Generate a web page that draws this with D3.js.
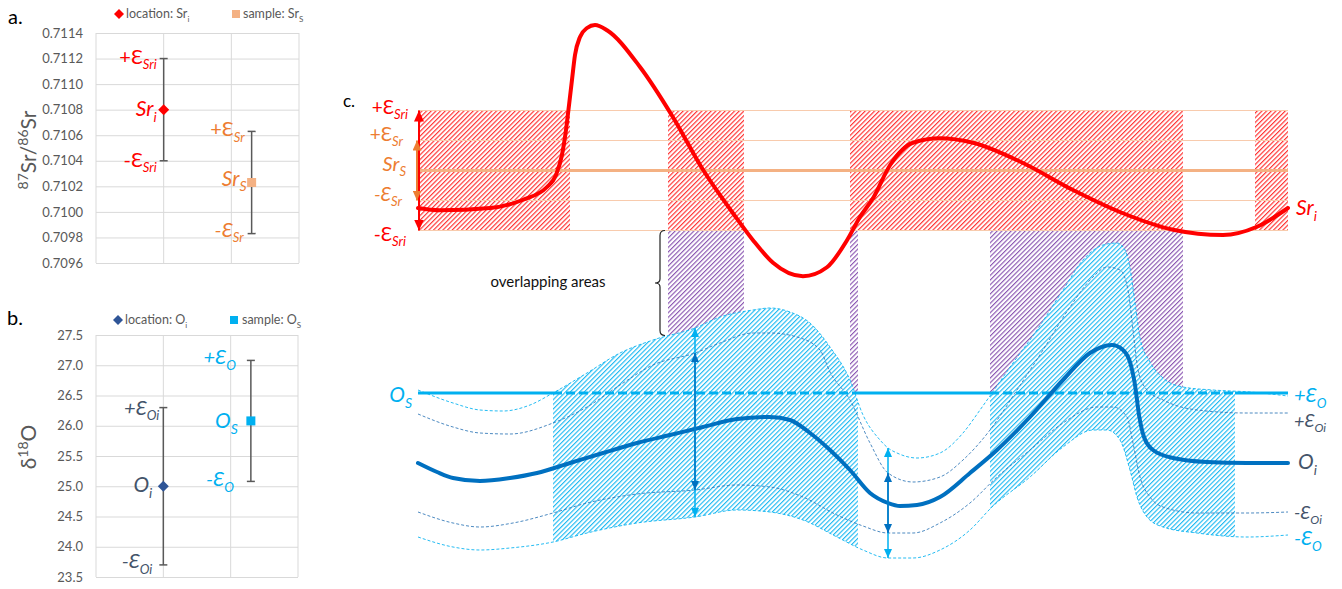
<!DOCTYPE html>
<html><head><meta charset="utf-8">
<script src="https://cdn.jsdelivr.net/npm/d3@7"></script>
<style>body{margin:0;background:#fff}svg{display:block}</style>
</head><body><svg id="chart" width="1342" height="589"></svg>
<script>
// ---------------- DATA ----------------
// panel a
const aYTicks = [0.7096,0.7098,0.7100,0.7102,0.7104,0.7106,0.7108,0.7110,0.7112,0.7114];
const gridX = [0,1,2,3];
const srCategories = ["location", "sample"];
const srPos = [1, 2.3];
const srValues = [0.7108, 0.71023];
const srErrors = [0.0004, 0.0004];
// panel b
const bYTicks = [23.5,24.0,24.5,25.0,25.5,26.0,26.5,27.0,27.5];
const oPos = [1, 2.3];
const oValues = [25.0, 26.08];
const oErrors = [1.3, 1.0];
// panel c  (x = distance units 0..87)
const cSrS = 0.71023, cEpsSr = 0.0004, cEpsSri = 0.0004;
const cOS = 26.1;
const srCurve = [[0,0.70973],[2.2,0.70970],[7.2,0.70973],[10.5,0.70984],[12.9,0.71001],[13.8,0.71017],[14.4,0.71044],[14.8,0.71077],[15.1,0.71110],[15.4,0.71144],[15.7,0.71177],[16.2,0.71201],[16.9,0.71213],[17.7,0.71217],[18.9,0.71210],[22.2,0.71161],[25.5,0.71094],[28.5,0.71024],[31.5,0.70966],[33.5,0.70930],[35.5,0.70900],[38.5,0.70882],[40.9,0.70894],[42.9,0.70930],[44.2,0.70961],[45.5,0.70986],[47.2,0.71030],[49.5,0.71060],[52.2,0.71066],[55.5,0.71060],[60.5,0.71033],[65.5,0.70997],[70.5,0.70966],[75.5,0.70944],[80.5,0.70937],[83.9,0.70948],[87,0.70973]];
const oiCurve = [[0,24.70],[1.9,24.52],[3.5,24.40],[6.2,24.34],[9.2,24.40],[11.9,24.50],[15.2,24.70],[18.5,24.90],[21.9,25.10],[25.2,25.26],[28.5,25.42],[31.9,25.58],[35.2,25.62],[37.2,25.56],[39.2,25.30],[41.2,24.96],[43.2,24.56],[45.2,24.10],[47.0,23.90],[48.2,23.84],[49.9,23.86],[52.2,24.02],[55.2,24.50],[57.9,24.96],[61.2,25.62],[64.5,26.36],[67.2,26.90],[69.4,27.06],[70.5,26.96],[71.2,26.72],[71.7,26.26],[72.1,25.66],[72.6,25.22],[73.5,24.96],[75.5,24.80],[78.9,24.72],[82.9,24.70],[87,24.70]];
const oiUpper = [[0,25.68],[3.5,25.42],[6.2,25.30],[9.2,25.28],[13.5,25.50],[16.9,25.82],[20.2,26.26],[23.5,26.66],[27.7,26.90],[30.2,27.10],[33.5,27.30],[35.2,27.30],[37.9,27.22],[40.2,26.96],[41.2,26.52],[43.2,25.96],[45.2,25.10],[47.0,24.50],[49.5,24.32],[52.2,24.42],[54.5,24.76],[57.2,25.36],[59.9,26.16],[62.5,26.96],[65.2,27.82],[67.5,28.42],[68.9,28.62],[70.2,28.56],[71.0,28.16],[71.5,27.36],[72.0,26.56],[72.9,26.16],[74.5,25.96],[77.9,25.76],[82.9,25.70],[87,25.70]];
const oiLower = [[0,23.72],[3.5,23.50],[6.2,23.42],[9.5,23.50],[13.5,23.70],[16.9,23.90],[21.9,24.08],[27.7,24.16],[31.9,24.26],[35.2,24.22],[38.5,24.02],[41.9,23.66],[44.5,23.44],[47.0,23.30],[49.5,23.30],[52.2,23.50],[55.2,23.90],[57.9,24.42],[61.2,24.96],[64.5,25.50],[67.9,25.82],[69.5,25.82],[70.9,25.62],[71.5,25.10],[72.2,24.42],[73.2,24.02],[74.5,23.82],[77.9,23.70],[82.9,23.70],[87,23.72]];
const oTotUpper = [[0,26.16],[3.5,25.90],[6.2,25.76],[8.5,25.74],[11.2,25.86],[13.5,26.10],[16.9,26.50],[20.2,26.90],[23.5,27.16],[27.7,27.40],[30.2,27.62],[33.5,27.76],[35.2,27.80],[37.2,27.72],[39.2,27.50],[41.2,27.02],[43.2,26.36],[44.5,25.66],[46.2,25.16],[47.0,25.00],[47.9,24.90],[49.9,24.80],[52.2,24.90],[54.5,25.30],[56.2,25.76],[57.4,26.10],[59.5,26.70],[61.9,27.36],[64.5,28.16],[66.5,28.76],[68.5,29.06],[69.9,29.10],[70.7,28.96],[71.2,28.60],[71.7,27.90],[72.2,27.20],[73.2,26.72],[74.5,26.40],[76.5,26.22],[79.5,26.16],[83.2,26.12],[87,26.04]];
const oTotLower = [[0,23.22],[3.5,23.02],[6.2,22.96],[9.2,23.00],[13.5,23.12],[16.9,23.30],[21.9,23.50],[27.7,23.62],[31.9,23.76],[35.2,23.72],[38.5,23.56],[41.9,23.22],[44.5,22.96],[47.0,22.80],[49.5,22.80],[52.2,22.96],[55.2,23.36],[57.4,23.82],[61.2,24.42],[64.5,25.02],[67.5,25.36],[68.9,25.36],[70.2,25.16],[71.2,24.56],[71.9,24.02],[72.9,23.62],[74.5,23.42],[77.9,23.30],[82.9,23.22],[87,23.26]];
const srOverlap = [[0,15.2],[25.0,32.6],[43.2,76.5],[83.7,87]];
const bothOverlap = [[25.0,32.6],[43.2,44.0],[57.2,76.5]];
const oOverlap = [[13.5,44.0],[57.2,81.7]];
const arrowPos = [27.7, 47.0];
const braceO = 27.25;

// ---------------- HELPERS ----------------
const FONT = "Lato, 'Noto Sans', 'DejaVu Sans', sans-serif";
const svg = d3.select("#chart");
const defs = svg.append("defs");
function hatch(id, color, w, op, sp) {
  const p = defs.append("pattern").attr("id", id).attr("patternUnits", "userSpaceOnUse")
    .attr("width", sp).attr("height", 10).attr("patternTransform", "rotate(45)");
  p.append("line").attr("x1", 0.6).attr("y1", 0).attr("x2", 0.6).attr("y2", 10)
    .attr("stroke", color).attr("stroke-width", w).attr("stroke-opacity", op);
}
hatch("hRed", "#ff1a1a", 1.15, 0.9, 3.3);
hatch("hPurple", "#7030a0", 1.1, 0.85, 3.3);
hatch("hBlue", "#00b0f0", 1.05, 0.95, 3.3);
function marker(id, color, w, l) {
  defs.append("marker").attr("id", id).attr("viewBox", "0 0 10 10").attr("refX", 10).attr("refY", 5)
    .attr("markerUnits", "userSpaceOnUse").attr("markerWidth", l).attr("markerHeight", w)
    .attr("preserveAspectRatio", "none").attr("orient", "auto-start-reverse")
    .append("path").attr("d", "M0,0L10,5L0,10Z").attr("fill", color);
}
marker("mRed", "#ff0000", 10, 11);
marker("mOrange", "#ed7d31", 9, 10);
marker("mLight", "#00b0f0", 8, 9);
marker("mDark", "#0070c0", 8, 9);

function rich(g, x, y, parts, o) {
  const size = o.size || 18;
  const t = g.append("text").attr("x", x).attr("y", y)
    .attr("text-anchor", o.anchor || "start").attr("fill", o.color)
    .attr("font-size", size).attr("font-family", FONT);
  if (o.transform) t.attr("transform", o.transform);
  let cur = 0;
  parts.forEach(p => {
    const small = p.sub || p.sup;
    const fs = small ? Math.round(size * (o.subScale || 0.66)) : size;
    const target = p.sub ? size * 0.28 : p.sup ? -size * 0.38 : 0;
    const ts = t.append("tspan").text(p.t).attr("font-size", fs).attr("dy", target - cur);
    if (p.i) ts.attr("font-style", "italic");
    cur = target;
  });
  return t;
}
const diamond = (x, y, r) => `M${x},${y - r}L${x + r},${y}L${x},${y + r}L${x - r},${y}Z`;
function interp(curve, u) {
  for (let k = 0; k < curve.length - 1; k++) {
    const a = curve[k], b = curve[k + 1];
    if (u >= a[0] && u <= b[0]) return a[1] + (b[1] - a[1]) * (u - a[0]) / (b[0] - a[0]);
  }
  return curve[curve.length - 1][1];
}

// ---------------- PANEL A / B frame ----------------
function framePanel(xS, yS, ticks, fmt) {
  const g = svg.append("g");
  const [x0, x1] = xS.range();
  const [y0, y1] = yS.range();
  g.append("g").attr("transform", `translate(${x0},0)`)
    .call(d3.axisLeft(yS).tickValues(ticks).tickFormat(fmt).tickSize(-(x1 - x0)).tickPadding(13))
    .call(a => {
      a.select(".domain").remove();
      a.selectAll("line").attr("stroke", "#d9d9d9").attr("stroke-width", 1);
      a.selectAll("text").attr("fill", "#595959").attr("font-size", 13).attr("font-family", FONT);
    });
  g.selectAll(".vg").data(gridX).join("line")
    .attr("x1", d => xS(d)).attr("x2", d => xS(d)).attr("y1", y0).attr("y2", y1)
    .attr("stroke", "#d9d9d9").attr("stroke-width", 1);
  return g;
}
function errBar(g, x, yTop, yBot) {
  g.append("line").attr("x1", x).attr("x2", x).attr("y1", yTop).attr("y2", yBot).attr("stroke", "#595959").attr("stroke-width", 1.5);
  [yTop, yBot].forEach(y => g.append("line").attr("x1", x - 4).attr("x2", x + 4).attr("y1", y).attr("y2", y).attr("stroke", "#595959").attr("stroke-width", 1.5));
}

const RED = "#ff0000", ORANGE = "#ed7d31", LBLUE = "#00b0f0", DBLUE = "#0070c0", SLATE = "#44546a";

// ---------------- PANEL A ----------------
const xA = d3.scaleLinear().domain([0, 3]).range([96, 299]);
const yA = d3.scaleLinear().domain([0.7096, 0.7114]).range([263, 33]);
const gA = framePanel(xA, yA, aYTicks, d3.format(".4f"));
svg.append("text").attr("x", 8).attr("y", 24).attr("font-size", 20).attr("font-family", FONT).attr("fill", "#000").text("a.");
svg.append("path").attr("d", diamond(119, 14, 5)).attr("fill", RED);
rich(svg, 126, 18, [{t: "location: Sr"}, {t: "i", sub: 1}], {size: 12.5, color: "#595959"});
svg.append("rect").attr("x", 232).attr("y", 10).attr("width", 8).attr("height", 8).attr("fill", "#f4b183");
rich(svg, 243, 18, [{t: "sample: Sr"}, {t: "S", sub: 1}], {size: 12.5, color: "#595959"});
rich(svg, 0, 0, [{t: "87", sup: 1}, {t: "Sr/"}, {t: "86", sup: 1}, {t: "Sr"}], {size: 21, color: "#595959", anchor: "middle", transform: "translate(36,150) rotate(-90)"});
srCategories.forEach((c, i) => errBar(gA, xA(srPos[i]), yA(srValues[i] + srErrors[i]), yA(srValues[i] - srErrors[i])));
gA.append("path").attr("d", diamond(xA(srPos[0]), yA(srValues[0]), 5.5)).attr("fill", RED);
gA.append("rect").attr("x", xA(srPos[1]) - 4.5).attr("y", yA(srValues[1]) - 4.5).attr("width", 9).attr("height", 9).attr("fill", "#f4b183");
let lx = xA(srPos[0]);
rich(gA, lx - 7, yA(srValues[0] + srErrors[0]) + 5, [{t: "+Ɛ"}, {t: "Sri", sub: 1, i: 1}], {size: 20, color: RED, anchor: "end"});
rich(gA, lx - 7, yA(srValues[0]) + 6, [{t: "Sr", i: 1}, {t: "i", sub: 1, i: 1}], {size: 21, color: RED, anchor: "end"});
rich(gA, lx - 7, yA(srValues[0] - srErrors[0]) + 6, [{t: "-Ɛ"}, {t: "Sri", sub: 1, i: 1}], {size: 20, color: RED, anchor: "end"});
lx = xA(srPos[1]);
rich(gA, lx - 7, yA(srValues[1] + srErrors[1]) + 5, [{t: "+Ɛ"}, {t: "Sr", sub: 1, i: 1}], {size: 20, color: ORANGE, anchor: "end"});
rich(gA, lx - 5, yA(srValues[1]) + 3, [{t: "Sr", i: 1}, {t: "S", sub: 1, i: 1}], {size: 21, color: ORANGE, anchor: "end"});
rich(gA, lx - 8, yA(srValues[1] - srErrors[1]) + 3, [{t: "-Ɛ", i: 1}, {t: "Sr", sub: 1, i: 1}], {size: 20, color: ORANGE, anchor: "end"});

// ---------------- PANEL B ----------------
const xB = d3.scaleLinear().domain([0, 3]).range([96, 298]);
const yB = d3.scaleLinear().domain([23.5, 27.5]).range([577, 335]);
const gB = framePanel(xB, yB, bYTicks, d3.format(".1f"));
svg.append("text").attr("x", 7).attr("y", 325).attr("font-size", 20).attr("font-family", FONT).attr("fill", "#000").text("b.");
svg.append("path").attr("d", diamond(118, 320, 5)).attr("fill", "#2f5597");
rich(svg, 125, 324, [{t: "location: O"}, {t: "i", sub: 1}], {size: 12.5, color: "#595959"});
svg.append("rect").attr("x", 230).attr("y", 316).attr("width", 8).attr("height", 8).attr("fill", LBLUE);
rich(svg, 242, 324, [{t: "sample: O"}, {t: "S", sub: 1}], {size: 12.5, color: "#595959"});
rich(svg, 0, 0, [{t: "δ"}, {t: "18", sup: 1}, {t: "O"}], {size: 21, color: "#595959", anchor: "middle", transform: "translate(36,447) rotate(-90)"});
oValues.forEach((v, i) => errBar(gB, xB(oPos[i]), yB(v + oErrors[i]), yB(v - oErrors[i])));
gB.append("path").attr("d", diamond(xB(oPos[0]), yB(oValues[0]), 5.5)).attr("fill", "#2f5597");
gB.append("rect").attr("x", xB(oPos[1]) - 4.5).attr("y", yB(oValues[1]) - 4.5).attr("width", 9).attr("height", 9).attr("fill", LBLUE);
lx = xB(oPos[0]);
rich(gB, lx - 4, yB(oValues[0] + oErrors[0]) + 7, [{t: "+Ɛ", i: 1}, {t: "Oi", sub: 1, i: 1}], {size: 20, color: SLATE, anchor: "end"});
rich(gB, lx - 11, yB(oValues[0]) + 6, [{t: "O", i: 1}, {t: "i", sub: 1, i: 1}], {size: 21, color: SLATE, anchor: "end"});
rich(gB, lx - 11, yB(oValues[0] - oErrors[0]) + 3, [{t: "-Ɛ", i: 1}, {t: "Oi", sub: 1, i: 1}], {size: 20, color: SLATE, anchor: "end"});
lx = xB(oPos[1]);
rich(gB, lx - 15, yB(oValues[1] + oErrors[1]) + 4, [{t: "+Ɛ", i: 1}, {t: "O", sub: 1, i: 1}], {size: 20, color: LBLUE, anchor: "end"});
rich(gB, lx - 13, yB(oValues[1]) + 7, [{t: "O", i: 1}, {t: "S", sub: 1, i: 1}], {size: 21, color: LBLUE, anchor: "end"});
rich(gB, lx - 17, yB(oValues[1] - oErrors[1]) + 5, [{t: "-Ɛ", i: 1}, {t: "O", sub: 1, i: 1}], {size: 20, color: LBLUE, anchor: "end"});

// ---------------- PANEL C ----------------
const xC = d3.scaleLinear().domain([0, 87]).range([418, 1288]);
const ySr = d3.scaleLinear().domain([0.7090, 0.7122]).range([262.75, 22.75]);
const yO = d3.scaleLinear().domain([22, 30]).range([598, 198]);
const gC = svg.append("g");
svg.append("text").attr("x", 343).attr("y", 107).attr("font-size", 17).attr("font-family", FONT).attr("fill", "#000").text("c.");

const bandTop = cSrS + cEpsSr + cEpsSri, bandBot = cSrS - cEpsSr - cEpsSri;
gC.selectAll(".rh").data(srOverlap).join("rect")
  .attr("x", d => xC(d[0])).attr("width", d => xC(d[1]) - xC(d[0]))
  .attr("y", ySr(bandTop)).attr("height", ySr(bandBot) - ySr(bandTop)).attr("fill", "url(#hRed)");
gC.selectAll(".ph").data(bothOverlap).join("rect")
  .attr("x", d => xC(d[0])).attr("width", d => xC(d[1]) - xC(d[0]))
  .attr("y", ySr(bandBot)).attr("height", yO(cOS) - ySr(bandBot)).attr("fill", "url(#hPurple)");
[bandTop, cSrS + cEpsSr, cSrS - cEpsSr, bandBot].forEach(v => {
  gC.append("line").attr("x1", xC(0)).attr("x2", xC(87)).attr("y1", ySr(v)).attr("y2", ySr(v))
    .attr("stroke", "#f8cbad").attr("stroke-width", 1.2);
});
gC.append("line").attr("x1", xC(0)).attr("x2", xC(87)).attr("y1", ySr(cSrS)).attr("y2", ySr(cSrS))
  .attr("stroke", "#f4b183").attr("stroke-width", 3);

const lineO = d3.line().x(d => xC(d[0])).y(d => yO(d[1])).curve(d3.curveMonotoneX);
const clip = defs.append("clipPath").attr("id", "clipO");
oOverlap.forEach(r => clip.append("rect").attr("x", xC(r[0])).attr("width", xC(r[1]) - xC(r[0])).attr("y", 0).attr("height", 589));
const areaD = lineO(oTotUpper) + "L" + lineO(oTotLower.slice().reverse()).slice(1) + "Z";
const gArea = gC.append("g").attr("clip-path", "url(#clipO)");
gArea.append("path").attr("d", areaD).attr("fill", "#fff");
gArea.append("path").attr("d", areaD).attr("fill", "url(#hBlue)");

[[oTotUpper, LBLUE], [oiUpper, "#2e75b6"], [oiLower, "#2e75b6"], [oTotLower, LBLUE]].forEach(([c, col]) => {
  gC.append("path").attr("d", lineO(c)).attr("fill", "none").attr("stroke", col)
    .attr("stroke-width", 1).attr("stroke-dasharray", "3,2").attr("opacity", 0.85);
});
const solidSegs = [];
let start = 0;
oOverlap.forEach(r => { solidSegs.push([start, r[0]]); start = r[1]; });
solidSegs.push([start, 87]);
solidSegs.forEach(s => gC.append("line").attr("x1", xC(s[0])).attr("x2", xC(s[1])).attr("y1", yO(cOS)).attr("y2", yO(cOS)).attr("stroke", LBLUE).attr("stroke-width", 3));
oOverlap.forEach(s => gC.append("line").attr("x1", xC(s[0])).attr("x2", xC(s[1])).attr("y1", yO(cOS)).attr("y2", yO(cOS)).attr("stroke", LBLUE).attr("stroke-width", 3).attr("stroke-dasharray", "9,4"));
gC.append("path").attr("d", lineO(oiCurve)).attr("fill", "none").attr("stroke", DBLUE).attr("stroke-width", 4).attr("stroke-linecap", "round");
arrowPos.forEach(u => {
  const x = xC(u);
  gC.append("line").attr("x1", x).attr("x2", x).attr("y1", yO(interp(oTotUpper, u))).attr("y2", yO(interp(oTotLower, u)))
    .attr("stroke", LBLUE).attr("stroke-width", 1.5).attr("marker-start", "url(#mLight)").attr("marker-end", "url(#mLight)");
  gC.append("line").attr("x1", x).attr("x2", x).attr("y1", yO(interp(oiUpper, u))).attr("y2", yO(interp(oiLower, u)))
    .attr("stroke", DBLUE).attr("stroke-width", 1.5).attr("marker-start", "url(#mDark)").attr("marker-end", "url(#mDark)");
});
const lineSr = d3.line().x(d => xC(d[0])).y(d => ySr(d[1])).curve(d3.curveMonotoneX);
gC.append("path").attr("d", lineSr(srCurve)).attr("fill", "none").attr("stroke", RED).attr("stroke-width", 4).attr("stroke-linecap", "round");
gC.append("line").attr("x1", xC(0) + 1).attr("x2", xC(0) + 1).attr("y1", ySr(bandTop)).attr("y2", ySr(bandBot))
  .attr("stroke", RED).attr("stroke-width", 2).attr("marker-start", "url(#mRed)").attr("marker-end", "url(#mRed)");
gC.append("line").attr("x1", xC(0) - 1).attr("x2", xC(0) - 1).attr("y1", ySr(cSrS + cEpsSr)).attr("y2", ySr(cSrS - cEpsSr))
  .attr("stroke", ORANGE).attr("stroke-width", 2).attr("marker-start", "url(#mOrange)").attr("marker-end", "url(#mOrange)");

// left labels
rich(gC, 408, ySr(bandTop) + 3, [{t: "+Ɛ"}, {t: "Sri", sub: 1, i: 1}], {size: 19, color: RED, anchor: "end"});
rich(gC, 403, ySr(cSrS + cEpsSr), [{t: "+Ɛ"}, {t: "Sr", sub: 1, i: 1}], {size: 19, color: ORANGE, anchor: "end"});
rich(gC, 406, ySr(cSrS), [{t: "Sr", i: 1}, {t: "S", sub: 1, i: 1}], {size: 20, color: ORANGE, anchor: "end"});
rich(gC, 402, ySr(cSrS - cEpsSr), [{t: "-Ɛ", i: 1}, {t: "Sr", sub: 1, i: 1}], {size: 19, color: ORANGE, anchor: "end"});
rich(gC, 406, ySr(bandBot) + 10, [{t: "-Ɛ"}, {t: "Sri", sub: 1, i: 1}], {size: 19, color: RED, anchor: "end"});
rich(gC, 412, yO(cOS) + 9, [{t: "O", i: 1}, {t: "S", sub: 1, i: 1}], {size: 21, color: LBLUE, anchor: "end"});
// right labels
const last = c => c[c.length - 1][1];
const xr = xC(87) + 6;
rich(gC, xr + 2, ySr(last(srCurve)) + 7, [{t: "Sr", i: 1}, {t: "i", sub: 1, i: 1}], {size: 21, color: RED});
rich(gC, xr, yO(last(oTotUpper)) + 6, [{t: "+Ɛ", i: 1}, {t: "O", sub: 1, i: 1}], {size: 20, color: LBLUE});
rich(gC, xr, yO(last(oiUpper)) + 14, [{t: "+Ɛ", i: 1}, {t: "Oi", sub: 1, i: 1}], {size: 18, color: SLATE});
rich(gC, xr + 4, yO(last(oiCurve)) + 6, [{t: "O", i: 1}, {t: "i", sub: 1, i: 1}], {size: 21, color: SLATE});
rich(gC, xr, yO(last(oiLower)) + 7, [{t: "-Ɛ", i: 1}, {t: "Oi", sub: 1, i: 1}], {size: 18, color: SLATE});
rich(gC, xr, yO(last(oTotLower)) + 10, [{t: "-Ɛ", i: 1}, {t: "O", sub: 1, i: 1}], {size: 20, color: LBLUE});

// brace + annotation
const bx = xC(24.2), bt = ySr(bandBot), bb = yO(braceO), bm = (bt + bb) / 2;
gC.append("path").attr("d", `M${bx + 5},${bt}Q${bx},${bt} ${bx},${bt + 5}L${bx},${bm - 4}Q${bx},${bm} ${bx - 5},${bm}Q${bx},${bm} ${bx},${bm + 4}L${bx},${bb - 5}Q${bx},${bb} ${bx + 5},${bb}`)
  .attr("fill", "none").attr("stroke", "#222").attr("stroke-width", 1.2);
gC.append("text").attr("x", xC(13)).attr("y", bm + 4).attr("text-anchor", "middle").attr("font-size", 15)
  .attr("font-family", FONT).attr("fill", "#111").text("overlapping areas");
</script></body></html>
